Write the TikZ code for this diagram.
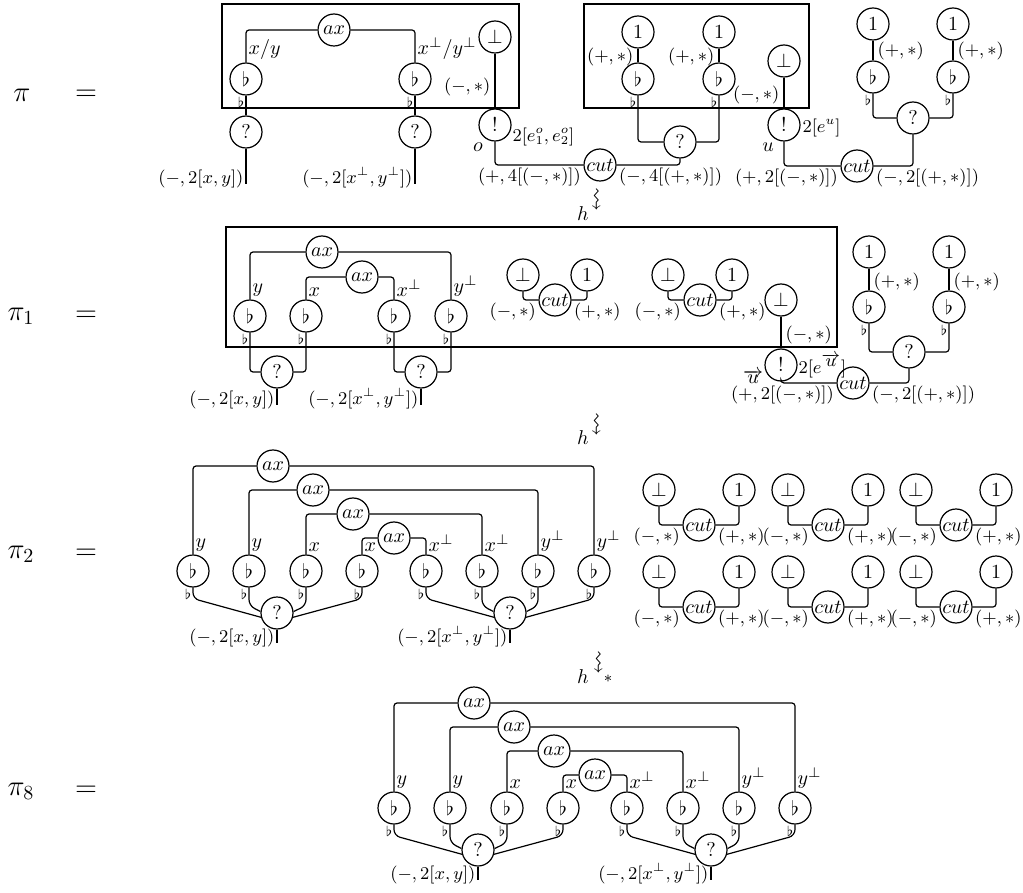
\documentclass[tikz,border=0pt]{standalone}
\usepackage{amssymb}
\usetikzlibrary{positioning}

\tikzset{
  cell/.style={draw, circle, minimum size=16pt, inner sep=0pt},
  wire/.style={rounded corners=1.5pt},
  slant/.style={rounded corners=3pt},
  frame/.style={draw, line width=1pt},
  tag/.style={inner sep=1pt, font=\small},
  var/.style={inner sep=1pt},
  flattag/.style={inner sep=0.5pt, font=\scriptsize},
  squig/.style={rotate=-90, inner sep=0pt, scale=1.2},
  big/.style={font=\Large},
}

% eight flats, four axioms, two contractions
\newcommand{\flatnet}[1]{%
  \foreach \i/\px/\py in {1/273/466, 2/313/490, 3/353/514, 4/394/538}
    \node[cell] (#1a\i) at (\px,\py) {$ax$};
  \foreach \i/\px/\lab in {1/193/y, 2/249/y, 3/306/x, 4/362/x, 5/426/x^\bot, 6/482/x^\bot, 7/538/y^\bot, 8/594/y^\bot} {
    \node[cell] (#1f\i) at (\px,571) {$\flat$};
    \node[var, anchor=south west] (#1l\i) at (#1f\i.north) {$\lab$};
    \node[flattag, anchor=north east] (#1s\i) at (#1f\i.south) {$\flat$};
  }
  \foreach \i/\lf/\rg in {1/1/8, 2/2/7, 3/3/6, 4/4/5} {
    \draw[wire] (#1a\i.west) -| (#1f\lf.north);
    \draw[wire] (#1a\i.east) -| (#1f\rg.north);
  }
  \node[cell] (#1q1) at (277,613) {$?$};
  \node[cell] (#1q2) at (510,613) {$?$};
  \draw[slant] (#1f1.south) -- ++(0,11) -- (#1q1.195);
  \draw[slant] (#1f2.south) -- ++(0,18) -- (#1q1.175);
  \draw[slant] (#1f3.south) -- ++(0,18) -- (#1q1.5);
  \draw[slant] (#1f4.south) -- ++(0,11) -- (#1q1.345);
  \draw[slant] (#1f5.south) -- ++(0,11) -- (#1q2.195);
  \draw[slant] (#1f6.south) -- ++(0,18) -- (#1q2.175);
  \draw[slant] (#1f7.south) -- ++(0,18) -- (#1q2.5);
  \draw[slant] (#1f8.south) -- ++(0,11) -- (#1q2.345);
  \draw (#1q1.south) -- ++(0,13) coordinate (#1e1);
  \draw (#1q2.south) -- ++(0,13) coordinate (#1e2);
  \node[tag, anchor=base east] (#1r1) at (#1e1) {$(-,2[x,y])$};
  \node[tag, anchor=base east] (#1r2) at (#1e2) {$(-,2[x^\bot,y^\bot])$};
}

\begin{document}
\begin{tikzpicture}[x=0.5pt, y=-0.5pt, line width=0.6pt]
\useasboundingbox (0,0) rectangle (1023,893);

% ---- pi ----
\node[big] (pi0) at (22,95) {$\pi$};
\node[big] (eq0) at (86,95) {$=$};

% left box
\draw[frame] (222,4) rectangle (519,108);
\node[cell] (ax0) at (334,30) {$ax$};
\node[cell] (fa1) at (246,79) {$\flat$};
\node[cell] (fa2) at (415,79) {$\flat$};
\draw[wire] (ax0.west) -| (fa1.north);
\draw[wire] (ax0.east) -| (fa2.north);
\node[var, anchor=south west] (la1) at (fa1.north) {$x/y$};
\node[var, anchor=south west] (la2) at (fa2.north) {$x^\bot/y^\bot$};
\node[cell] (qa1) at (246,132) {$?$};
\node[cell] (qa2) at (415,132) {$?$};
\foreach \i in {1,2} {
  \node[flattag, anchor=north east] (sa\i) at (fa\i.south) {$\flat$};
  \draw (fa\i.south) -- (qa\i.north);
  \draw (qa\i.south) -- ++(0,35) coordinate (ea\i);
}
\node[tag, anchor=base east] (ra1) at (ea1) {$(-,2[x,y])$};
\node[tag, anchor=base east] (ra2) at (ea2) {$(-,2[x^\bot,y^\bot])$};

\node[cell] (bta) at (495,37) {$\bot$};
\node[cell] (bang0) at (495,125) {$!$};
\draw (bta) -- (bang0);
\node[tag, anchor=east] (lba) at (493,87) {$(-,*)$};
\node[tag, anchor=west] (lbb) at (510,137) {$2[e^o_1,e^o_2]$};
\node[var] (lo) at (478,147) {$o$};
\node[cell] (cut0) at (600,165) {$cut$};
\draw[wire] (bang0.south) |- (cut0.west);
\node[tag, anchor=north east] (lc0) at (cut0.west) {$(+,4[(-,*)])$};
\node[tag, anchor=north west] (rc0) at (cut0.east) {$(-,4[(+,*)])$};

% right box
\draw[frame] (584,4) rectangle (809,108);
\foreach \i/\px in {3/638, 4/719} {
  \node[cell] (oa\i) at (\px,32) {$1$};
  \node[cell] (fa\i) at (\px,79) {$\flat$};
  \draw (oa\i) -- (fa\i);
  \node[tag, anchor=east] (pa\i) at (\px-2,57) {$(+,*)$};
  \node[flattag, anchor=north east] (sa\i) at (fa\i.south) {$\flat$};
}
\node[cell] (qa3) at (680,142) {$?$};
\draw[wire] (fa3.south) |- (qa3.west);
\draw[wire] (fa4.south) |- (qa3.east);
\draw[wire] (qa3.south) |- (cut0.east);

\node[cell] (btb) at (784,61) {$\bot$};
\node[cell] (bang1) at (784,125) {$!$};
\draw (btb) -- (bang1);
\node[tag, anchor=east] (lbc) at (782,95) {$(-,*)$};
\node[tag, anchor=west] (lbd) at (800,128) {$2[e^u]$};
\node[var] (lu) at (768,147) {$u$};
\node[cell] (cut1) at (857,166) {$cut$};
\draw[wire] (bang1.south) |- (cut1.west);
\foreach \i/\px in {5/873, 6/953} {
  \node[cell] (oa\i) at (\px,24) {$1$};
  \node[cell] (fa\i) at (\px,77) {$\flat$};
  \draw (oa\i) -- (fa\i);
  \node[tag, anchor=west] (pa\i) at (\px+2,51) {$(+,*)$};
  \node[flattag, anchor=north east] (sa\i) at (fa\i.south) {$\flat$};
}
\node[cell] (qa4) at (913,118) {$?$};
\draw[wire] (fa5.south) |- (qa4.west);
\draw[wire] (fa6.south) |- (qa4.east);
\draw[wire] (qa4.south) |- (cut1.east);
\node[tag, anchor=north east] (lc1) at (cut1.west) {$(+,2[(-,*)])$};
\node[tag, anchor=north west] (rc1) at (cut1.east) {$(-,2[(+,*)])$};

\node (h1) at (583,214) {$h$};
\node[squig] (w1) at (595,200) {$\rightsquigarrow$};

% ---- pi_1 ----
\node[big] (pi1) at (21,316) {$\pi_1$};
\node[big] (eq1) at (86,316) {$=$};
\draw[frame] (226,227) rectangle (837,347);
\node[cell] (axb1) at (322,252) {$ax$};
\node[cell] (axb2) at (362,277) {$ax$};
\foreach \i/\px/\lab in {1/250/y, 2/306/x, 3/394/x^\bot, 4/451/y^\bot} {
  \node[cell] (fb\i) at (\px,316) {$\flat$};
  \node[var, anchor=south west] (lb\i) at (fb\i.north) {$\lab$};
  \node[flattag, anchor=north east] (sb\i) at (fb\i.south) {$\flat$};
}
\draw[wire] (axb1.west) -| (fb1.north);
\draw[wire] (axb1.east) -| (fb4.north);
\draw[wire] (axb2.west) -| (fb2.north);
\draw[wire] (axb2.east) -| (fb3.north);
\node[cell] (qb1) at (277,372) {$?$};
\node[cell] (qb2) at (421,372) {$?$};
\draw[wire] (fb1.south) |- (qb1.west);
\draw[wire] (fb2.south) |- (qb1.east);
\draw[wire] (fb3.south) |- (qb2.west);
\draw[wire] (fb4.south) |- (qb2.east);
\draw (qb1.south) -- ++(0,16) coordinate (eb1);
\draw (qb2.south) -- ++(0,16) coordinate (eb2);
\node[tag, anchor=base east] (rb1) at (eb1) {$(-,2[x,y])$};
\node[tag, anchor=base east] (rb2) at (eb2) {$(-,2[x^\bot,y^\bot])$};

\foreach \i/\px in {1/523, 2/668} {
  \node[cell] (pbb\i) at (\px,275) {$\bot$};
  \node[cell] (pbo\i) at (\px+64,275) {$1$};
  \node[cell] (pbc\i) at (\px+32,300) {$cut$};
  \draw[wire] (pbb\i.south) |- (pbc\i.west);
  \draw[wire] (pbo\i.south) |- (pbc\i.east);
  \node[tag, anchor=north east] (pbl\i) at (pbc\i.west) {$(-,*)$};
  \node[tag, anchor=north west] (pbr\i) at (pbc\i.east) {$(+,*)$};
}

\node[cell] (btc) at (781,300) {$\bot$};
\node[cell] (bang2) at (781,365) {$!$};
\draw (btc) -- (bang2);
\node[tag, anchor=west] (lbe) at (783,335) {$(-,*)$};
\node[tag, anchor=west] (lbf) at (796,366) {$2[e^{\overrightarrow{u}}]$};
\node[var] (lv) at (753,377) {$\overrightarrow{u}$};
\node[cell] (cut2) at (853,383) {$cut$};
\draw[wire] (bang2.south) |- (cut2.west);
\foreach \i/\px in {5/869, 6/949} {
  \node[cell] (ob\i) at (\px,252) {$1$};
  \node[cell] (fb\i) at (\px,307) {$\flat$};
  \draw (ob\i) -- (fb\i);
  \node[tag, anchor=west] (pb\i) at (\px+2,282) {$(+,*)$};
  \node[flattag, anchor=north east] (sb\i) at (fb\i.south) {$\flat$};
}
\node[cell] (qb3) at (909,352) {$?$};
\draw[wire] (fb5.south) |- (qb3.west);
\draw[wire] (fb6.south) |- (qb3.east);
\draw[wire] (qb3.south) |- (cut2.east);
\node[tag, anchor=north east] (lc2) at (cut2.west) {$(+,2[(-,*)])$};
\node[tag, anchor=north west] (rc2) at (cut2.east) {$(-,2[(+,*)])$};

\node (h2) at (583,438) {$h$};
\node[squig] (w2) at (595,424) {$\rightsquigarrow$};

% ---- pi_2 ----
\node[big] (pi2) at (21,554) {$\pi_2$};
\node[big] (eq2) at (86,554) {$=$};
\flatnet{c}
\foreach \i/\px/\py in {1/659/490, 2/788/490, 3/916/490, 4/659/572, 5/788/572, 6/916/572} {
  \node[cell] (pcb\i) at (\px,\py) {$\bot$};
  \node[cell] (pco\i) at (\px+80,\py) {$1$};
  \node[cell] (pcc\i) at (\px+40,\py+35) {$cut$};
  \draw[wire] (pcb\i.south) |- (pcc\i.west);
  \draw[wire] (pco\i.south) |- (pcc\i.east);
  \node[tag, anchor=north east] (pcl\i) at (pcc\i.west) {$(-,*)$};
  \node[tag, anchor=north west] (pcr\i) at (pcc\i.east) {$(+,*)$};
}

\node (h3) at (583,677) {$h$};
\node[squig] (w3) at (597,662) {$\rightsquigarrow$};
\node[inner sep=0pt, font=\footnotesize] (st3) at (608,679) {$*$};

% ---- pi_8 ----
\node[big] (pi8) at (21,791) {$\pi_8$};
\node[big] (eq8) at (86,791) {$=$};
\begin{scope}[shift={(201,237)}]
  \flatnet{d}
\end{scope}

\end{tikzpicture}
\end{document}
